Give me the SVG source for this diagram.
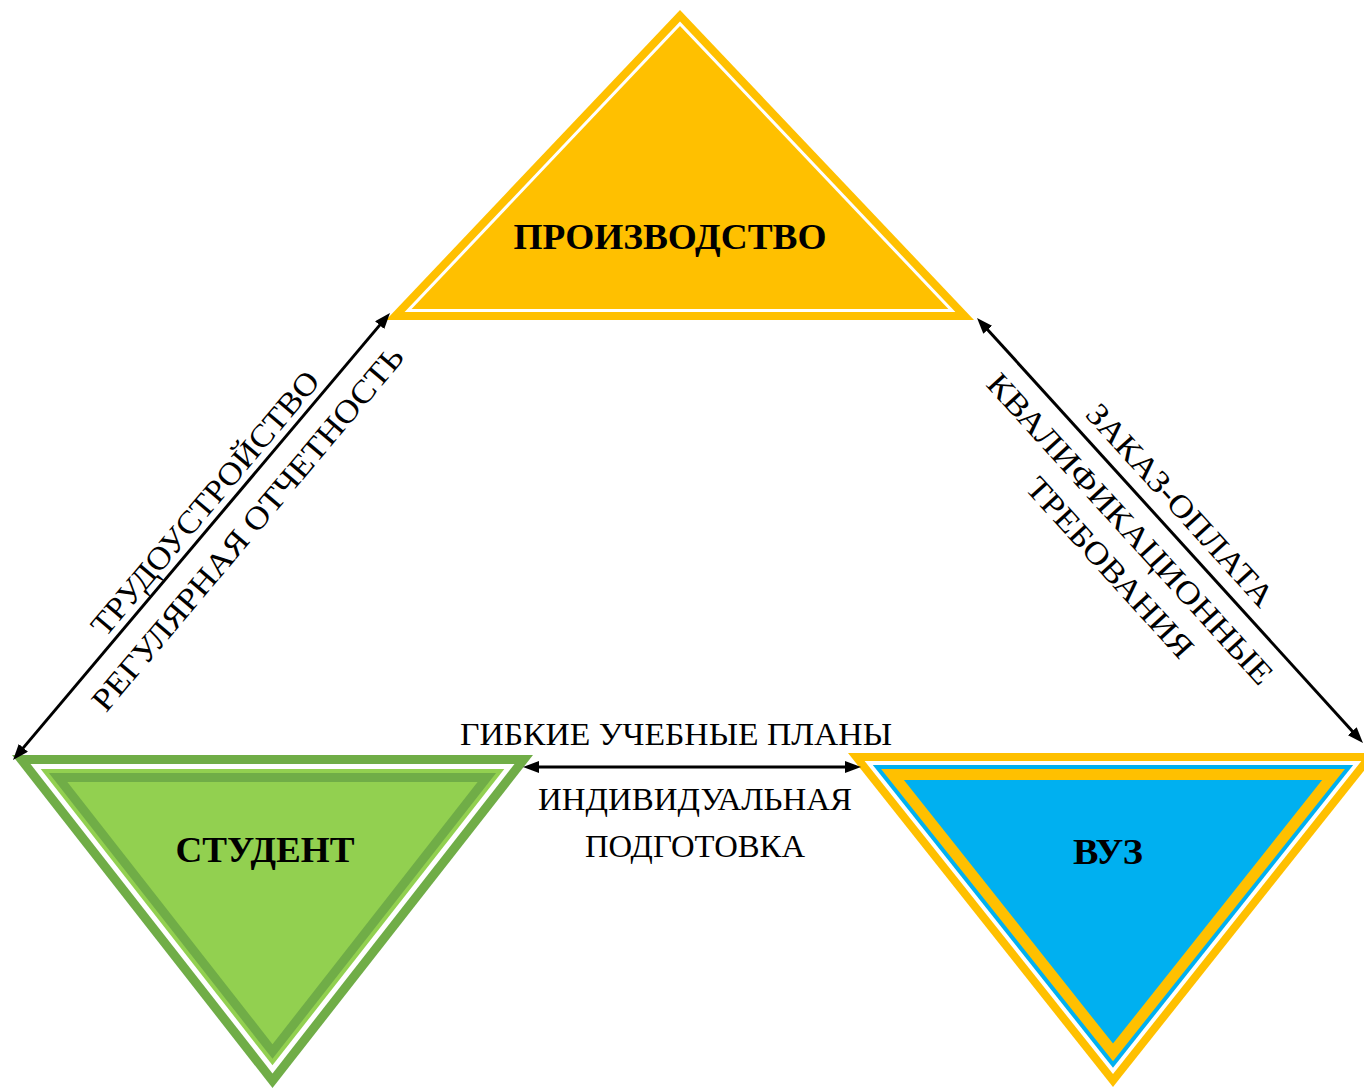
<svg xmlns="http://www.w3.org/2000/svg" width="1364" height="1090" viewBox="0 0 1364 1090">
<style>
.lbl{font-family:"Liberation Serif","Times New Roman",serif;font-size:32px;fill:#000;text-anchor:middle}
.node{font-family:"Liberation Serif","Times New Roman",serif;font-size:36px;font-weight:bold;fill:#000;text-anchor:middle}
.con{stroke:#000;stroke-width:3;fill:none;marker-start:url(#ah);marker-end:url(#ah)}
</style>
<defs>
<marker id="ah" viewBox="0 0 16 12" refX="8" refY="6" markerWidth="16" markerHeight="12" markerUnits="userSpaceOnUse" orient="auto-start-reverse">
<path d="M0,0 L16,6 L0,12 z" fill="#000"/>
</marker>
</defs>
<rect width="1364" height="1090" fill="#fff"/>
<g id="node-proizvodstvo">
<polygon points="680,10 974,320 386,320" fill="#FFC000"/>
<polygon points="680,21.6 955.4,312 404.6,312" fill="#fff"/>
<polygon points="680,26 948.4,309 411.6,309" fill="#FFC000"/>
<text class="node" x="670" y="249" textLength="313" lengthAdjust="spacingAndGlyphs">ПРОИЗВОДСТВО</text>
</g>
<g id="node-student">
<polygon points="12,755 533,755 272.5,1088" fill="#70AD47"/>
<polygon points="30.5,764 514.5,764 272.5,1073.4" fill="#fff"/>
<polygon points="40.7,769 504.3,769 272.5,1065.3" fill="#92D050"/>
<polygon points="48.9,773 496.1,773 272.5,1058.8" fill="#70AD47"/>
<polygon points="67.4,782 477.6,782 272.5,1044.2" fill="#92D050"/>
<text class="node" x="265" y="862" textLength="179" lengthAdjust="spacingAndGlyphs">СТУДЕНТ</text>
</g>
<g id="node-vuz">
<polygon points="848,753 1378,753 1113,1087" fill="#FFC000"/>
<polygon points="864.6,761 1361.4,761 1113,1074.1" fill="#fff"/>
<polygon points="872.8,765 1353.2,765 1113,1067.7" fill="#00B0F0"/>
<polygon points="881.1,769 1344.9,769 1113,1061.3" fill="#FFC000"/>
<polygon points="903.9,780 1322.1,780 1113,1043.6" fill="#00B0F0"/>
<text class="node" x="1108" y="864" textLength="70" lengthAdjust="spacingAndGlyphs">ВУЗ</text>
</g>
<g id="connectors">
<line class="con" x1="18.2" y1="753.9" x2="384.8" y2="319.1"/>
<line class="con" x1="982.4" y1="323.9" x2="1357.6" y2="737.1"/>
<line class="con" x1="531" y1="767" x2="853" y2="767"/>
<g transform="translate(13,760) rotate(-49.86)">
<text class="lbl" x="320" y="-8" textLength="335" lengthAdjust="spacingAndGlyphs">ТРУДОУСТРОЙСТВО</text>
<text class="lbl" x="328" y="41" textLength="465" lengthAdjust="spacingAndGlyphs">РЕГУЛЯРНАЯ ОТЧЕТНОСТЬ</text>
</g>
<g transform="translate(977,318) rotate(47.76)">
<text class="lbl" x="275" y="-14" textLength="262" lengthAdjust="spacingAndGlyphs">ЗАКАЗ-ОПЛАТА</text>
<text class="lbl" x="259" y="39" textLength="408" lengthAdjust="spacingAndGlyphs">КВАЛИФИКАЦИОННЫЕ</text>
<text class="lbl" x="274" y="80" textLength="232" lengthAdjust="spacingAndGlyphs">ТРЕБОВАНИЯ</text>
</g>
<text class="lbl" x="676" y="745" textLength="432" lengthAdjust="spacingAndGlyphs">ГИБКИЕ УЧЕБНЫЕ ПЛАНЫ</text>
<text class="lbl" x="695" y="810" textLength="314" lengthAdjust="spacingAndGlyphs">ИНДИВИДУАЛЬНАЯ</text>
<text class="lbl" x="695" y="857" textLength="220" lengthAdjust="spacingAndGlyphs">ПОДГОТОВКА</text>
</g>
</svg>
